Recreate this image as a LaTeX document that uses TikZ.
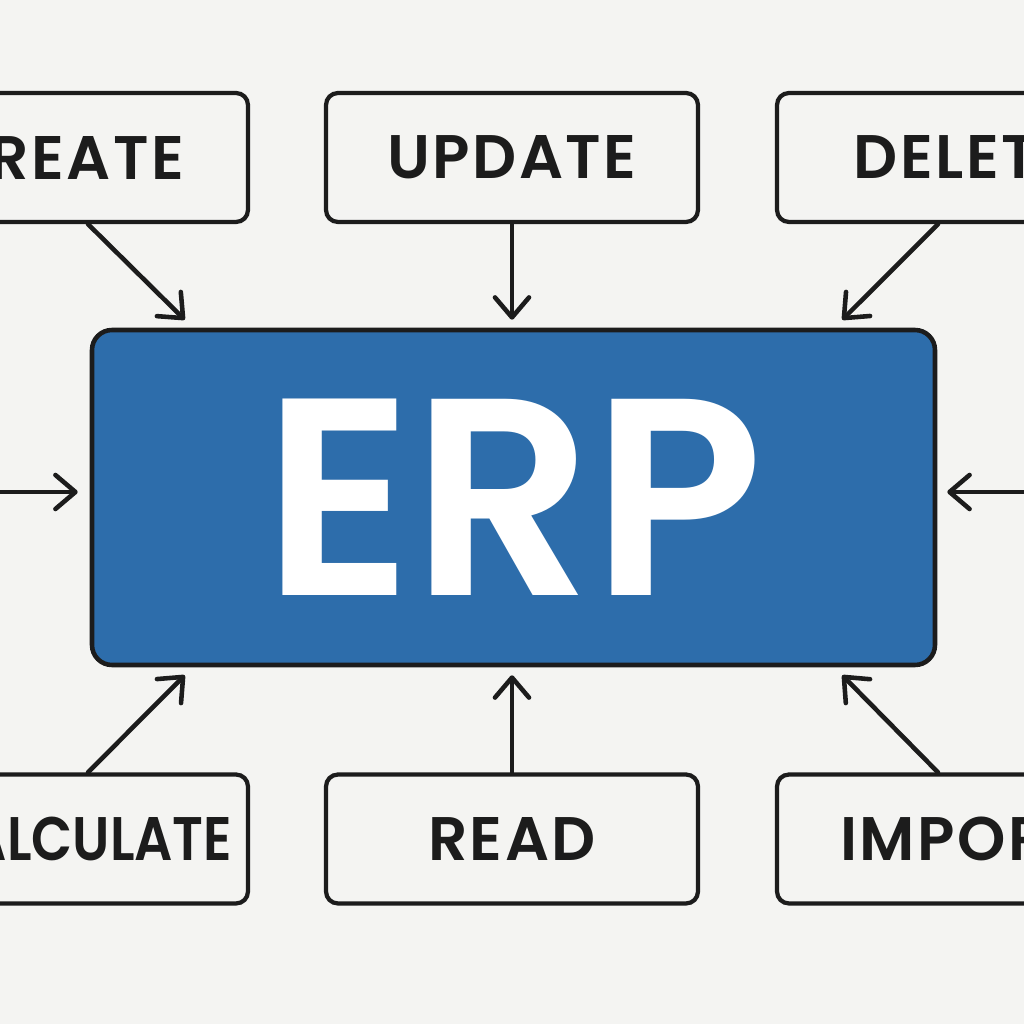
\documentclass[tikz,border=0pt]{standalone}
\usepackage{fontspec}
\setmainfont{Poppins}
\newfontfamily\semibold{Poppins SemiBold}
\newfontfamily\labelfont{Poppins SemiBold}[LetterSpace = 4]
\newfontfamily\narrowfont{Poppins SemiBold}[FakeStretch = 0.87]
\usetikzlibrary{arrows.meta}
\definecolor{paper}{HTML}{F4F4F2}
\definecolor{erpblue}{HTML}{2D6DAB}
\definecolor{ink}{HTML}{1C1C1C}
\tikzset{
  opbox/.style = {draw = ink, line width = 1.2pt, fill = paper, rounded corners = 0.12cm, inner xsep = 0pt,
    minimum width = 3.72cm, minimum height = 1.29cm, font = \fontsize{17.5}{20}\selectfont\labelfont, text = ink},
  erpbox/.style = {draw = ink, line width = 1.3pt, fill = erpblue, rounded corners = 0.2cm,
    minimum width = 8.43cm, minimum height = 3.35cm, font = \fontsize{80}{90}\selectfont\semibold, text = white},
  flow/.style = {draw = ink, line width = 1.3pt, line cap = round,
    -{Straight Barb[length = 0.2cm, width = 0.34cm, line width = 1.3pt, round]}}
}
\begin{document}
\begin{tikzpicture}
    \useasboundingbox (0, 0) rectangle (10.24, 10.24);
    \fill[paper] (0, 0) rectangle (10.24, 10.24);
    \clip (0, 0) rectangle (10.24, 10.24);

    \node[erpbox] (erp) at (5.135, 5.265) {ERP};

    \node[opbox] (create) at (0.62, 8.665) {CREATE};
    \node[opbox] (update) at (5.12, 8.665) {UPDATE};
    \node[opbox] (delete) at (9.63, 8.665) {DELETE};
    \node[opbox, font = \fontsize{17.5}{20}\selectfont\narrowfont] (calc) at (0.62, 1.85) {\hspace*{0.36cm}CALCULATE};
    \node[opbox] (read) at (5.12, 1.85) {READ};
    \node[opbox] (import) at (9.63, 1.85) {IMPORT};

    \coordinate (lin) at (0, 5.32);
    \coordinate (rin) at (10.24, 5.32);

    % top row
    \draw[flow] ([xshift = 0.26cm]create.south) -- ([xshift = 0.95cm, yshift = 0.08cm]erp.north west);
    \draw[flow] (update.south) -- ([yshift = 0.08cm]update.south |- erp.north);
    \draw[flow] ([xshift = -0.25cm]delete.south) -- ([xshift = -0.95cm, yshift = 0.08cm]erp.north east);
    % sides
    \draw[flow] (lin) -- ([xshift = -0.12cm]lin -| erp.west);
    \draw[flow] (rin) -- ([xshift = 0.1cm]rin -| erp.east);
    % bottom row
    \draw[flow] ([xshift = 0.26cm]calc.north) -- ([xshift = 0.95cm, yshift = -0.08cm]erp.south west);
    \draw[flow] (read.north) -- ([yshift = -0.08cm]read.north |- erp.south);
    \draw[flow] ([xshift = -0.25cm]import.north) -- ([xshift = -0.95cm, yshift = -0.08cm]erp.south east);
\end{tikzpicture}
\end{document}
